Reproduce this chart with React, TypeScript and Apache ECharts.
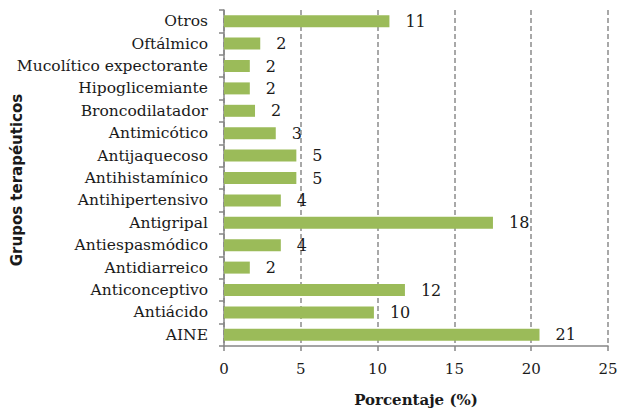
import React, { useEffect, useRef } from "react";
import * as echarts from "echarts";

// categories listed bottom to top
const categories = [
  "AINE",
  "Antiácido",
  "Anticonceptivo",
  "Antidiarreico",
  "Antiespasmódico",
  "Antigripal",
  "Antihipertensivo",
  "Antihistamínico",
  "Antijaquecoso",
  "Antimicótico",
  "Broncodilatador",
  "Hipoglicemiante",
  "Mucolítico expectorante",
  "Oftálmico",
  "Otros",
];

const percentages = [
  20.54, 9.76, 11.78, 1.68, 3.7, 17.51, 3.7, 4.71, 4.71, 3.37, 2.02, 1.68, 1.68,
  2.36, 10.77,
];

const xTicks = [0, 5, 10, 15, 20, 25];

const yTitle = "Grupos terapéuticos";
const xTitle = "Porcentaje (%)";

const serif = "DejaVu Serif";

export default function App() {
  const ref = useRef<HTMLDivElement>(null);
  useEffect(() => {
    if (!ref.current) return;
    const chart = echarts.init(ref.current, null, { renderer: "svg" });
    chart.setOption({
      animation: false,
      backgroundColor: "#ffffff",
      grid: {
        left: 224,
        right: 10,
        top: 10,
        bottom: 66,
        containLabel: false,
        outerBoundsMode: "none",
      },
      graphic: [
        {
          type: "text",
          x: 17,
          y: 180,
          rotation: Math.PI / 2,
          style: {
            text: yTitle,
            fontFamily: "DejaVu Sans",
            fontWeight: "bold",
            fontSize: 15,
            fill: "#1a1a1a",
            align: "center",
            verticalAlign: "middle",
          },
        },
      ],
      xAxis: {
        type: "value",
        min: xTicks[0],
        max: xTicks[xTicks.length - 1],
        interval: 5,
        name: xTitle,
        nameLocation: "middle",
        nameGap: 46,
        nameTextStyle: {
          fontFamily: serif,
          fontWeight: "bold",
          fontSize: 15,
          color: "#1a1a1a",
        },
        axisLine: { show: true, lineStyle: { color: "#868686", width: 1.5 } },
        axisTick: { show: true, length: 5, lineStyle: { color: "#868686", width: 1.5 } },
        axisLabel: {
          fontFamily: serif,
          fontSize: 15,
          color: "#1a1a1a",
          margin: 15,
        },
        splitLine: {
          show: true,
          lineStyle: { color: "#8c8c8c", type: [5, 3], width: 1.5 },
        },
      },
      yAxis: {
        type: "category",
        data: categories,
        axisLine: { show: true, lineStyle: { color: "#868686", width: 1.5 } },
        axisTick: {
          show: true,
          length: 5,
          alignWithLabel: false,
          lineStyle: { color: "#868686", width: 1.5 },
        },
        axisLabel: {
          fontFamily: serif,
          fontSize: 15.5,
          color: "#1a1a1a",
          margin: 16,
        },
        splitLine: { show: false },
      },
      series: [
        {
          type: "bar",
          data: percentages,
          barWidth: 12,
          itemStyle: { color: "#9BBB59" },
          label: {
            show: true,
            position: "right",
            distance: 16,
            fontFamily: serif,
            fontSize: 16,
            color: "#1a1a1a",
            formatter: (p: any) => String(Math.round(p.value)),
          },
        },
      ],
    });
    return () => chart.dispose();
  }, []);
  return (
    <div
      ref={ref}
      style={{ position: "absolute", left: 0, top: 0, width: 618, height: 412 }}
    />
  );
}
